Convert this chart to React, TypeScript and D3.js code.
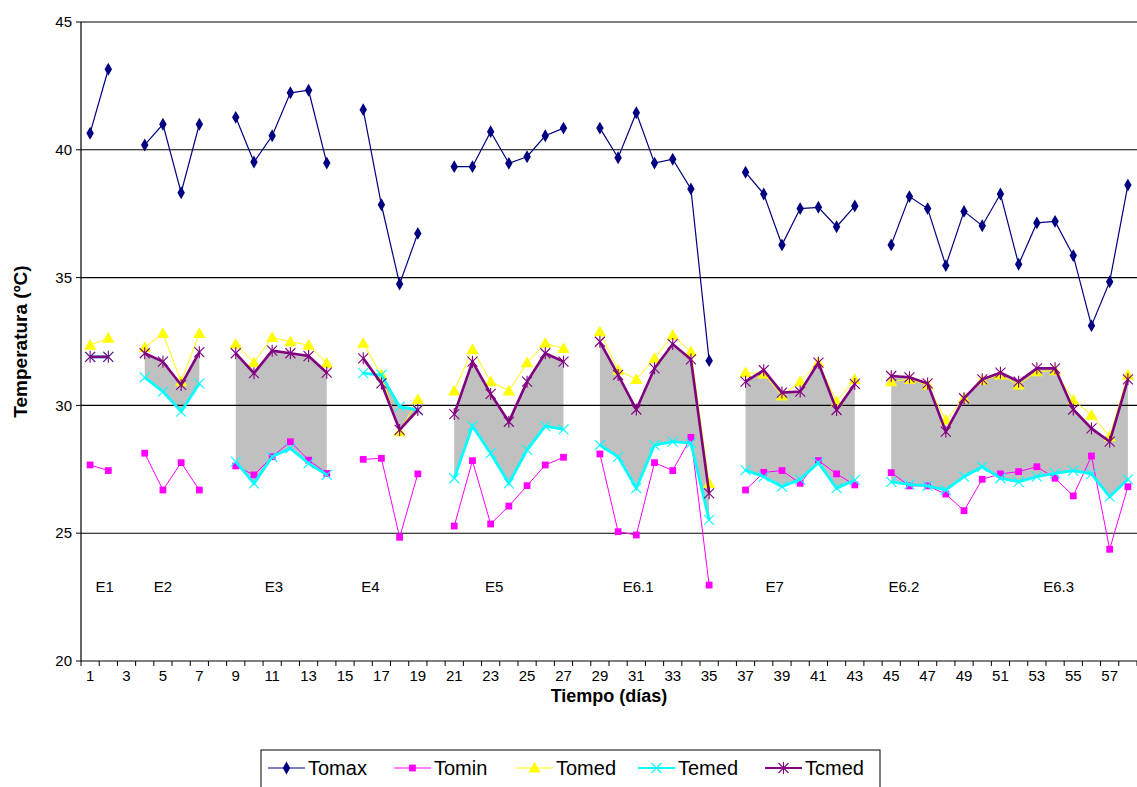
import React from "react";
import * as d3 from "d3";

const days = d3.range(1, 59);
const xTickLabels = d3.range(1, 58, 2);
const yTicks = [20, 25, 30, 35, 40, 45];

const N = null;
const tomax = [40.65, 43.15, N, 40.19, 41.0, 38.32, 41.0, N, 41.27, 39.52, 40.55, 42.23, 42.33, 39.48, N, 41.57, 37.85, 34.75, 36.73, N, 39.34, 39.34, 40.71, 39.47, 39.73, 40.55, 40.85, N, 40.85, 39.69, 41.45, 39.48, 39.63, 38.47, 31.75, N, 39.12, 38.27, 36.28, 37.7, 37.75, 36.99, 37.8, N, 36.28, 38.17, 37.7, 35.47, 37.59, 37.03, 38.27, 35.52, 37.14, 37.2, 35.86, 33.12, 34.84, 38.62];
const tomin = [27.67, 27.45, N, 28.13, 26.69, 27.76, 26.69, N, 27.63, 27.28, 27.99, 28.58, 27.86, 27.34, N, 27.89, 27.93, 24.84, 27.32, N, 25.28, 27.84, 25.36, 26.06, 26.86, 27.67, 27.97, N, 28.1, 25.06, 24.93, 27.76, 27.45, 28.75, 22.97, N, 26.69, 27.38, 27.45, 26.95, 27.84, 27.32, 26.89, N, 27.37, 26.85, 26.85, 26.53, 25.88, 27.11, 27.32, 27.41, 27.6, 27.15, 26.46, 28.02, 24.37, 26.82];
const tomed = [32.36, 32.63, N, 32.27, 32.82, 30.93, 32.82, N, 32.4, 31.67, 32.66, 32.49, 32.36, 31.65, N, 32.43, 31.19, 28.97, 30.23, N, 30.57, 32.19, 30.93, 30.57, 31.67, 32.43, 32.23, N, 32.88, 31.38, 31.02, 31.84, 32.75, 32.1, 26.95, N, 31.28, 31.23, 30.37, 30.93, 31.67, 30.15, 31.02, N, 30.93, 31.02, 30.8, 29.43, 30.28, 30.99, 31.19, 30.8, 31.32, 31.36, 30.21, 29.62, 28.78, 31.19];
const temed = [31.9, 31.9, N, 31.1, 30.54, 29.76, 30.86, N, 27.8, 26.95, 27.99, 28.32, 27.73, 27.28, N, 31.26, 31.19, 29.95, 29.82, N, 27.15, 29.19, 28.13, 26.95, 28.26, 29.19, 29.06, N, 28.45, 27.99, 26.76, 28.45, 28.58, 28.52, 25.52, N, 27.47, 27.21, 26.82, 27.11, 27.76, 26.76, 27.08, N, 27.01, 26.91, 26.85, 26.69, 27.21, 27.6, 27.15, 27.01, 27.21, 27.34, 27.45, 27.32, 26.43, 27.11];
const tcmed = [31.9, 31.9, N, 32.04, 31.71, 30.8, 32.08, N, 32.04, 31.26, 32.14, 32.04, 31.93, 31.28, N, 31.84, 30.86, 29.04, 29.82, N, 29.66, 31.71, 30.45, 29.36, 30.93, 32.04, 31.71, N, 32.49, 31.19, 29.84, 31.45, 32.4, 31.8, 26.56, N, 30.93, 31.38, 30.5, 30.54, 31.67, 29.82, 30.84, N, 31.15, 31.1, 30.86, 28.97, 30.28, 31.02, 31.28, 30.93, 31.45, 31.45, 29.84, 29.1, 28.58, 31.02];

const shadedRanges: [number, number][] = [[4, 7], [9, 14], [17, 19], [21, 27], [29, 35], [37, 43], [45, 58]];
const stageNames = ["E1", "E2", "E3", "E4", "E5", "E6.1", "E7", "E6.2", "E6.3"];
const stageDays = [1.8, 5.0, 11.1, 16.4, 23.2, 31.1, 38.6, 45.7, 54.2];

const seriesNames = ["Tomax", "Tomin", "Tomed", "Temed", "Tcmed"];
const seriesData = [tomax, tomin, tomed, temed, tcmed];
const seriesColors = ["#000080", "#FF00FF", "#FFFF00", "#00FFFF", "#800080"];
const seriesWidths = [1.2, 1, 1, 2.8, 2.6];
const seriesMarkers = ["diamond", "square", "triangle", "x", "star"];

const FONT = "'Liberation Sans', Arial, sans-serif";

function Marker({ type, x, y, color }: { type: string; x: number; y: number; color: string }) {
  if (type === "diamond") {
    const p = d3.symbol(d3.symbolDiamond, 48)();
    return <path d={p as string} transform={`translate(${x},${y})`} fill={color} />;
  }
  if (type === "square") {
    const p = d3.symbol(d3.symbolSquare, 46)();
    return <path d={p as string} transform={`translate(${x},${y})`} fill={color} />;
  }
  if (type === "triangle") {
    const p = d3.symbol(d3.symbolTriangle, 66)();
    return <path d={p as string} transform={`translate(${x},${y + 1})`} fill={color} />;
  }
  const r = 5;
  if (type === "x") {
    return (
      <g stroke={color} strokeWidth={1.1}>
        <line x1={x - r} y1={y - r} x2={x + r} y2={y + r} />
        <line x1={x - r} y1={y + r} x2={x + r} y2={y - r} />
      </g>
    );
  }
  return (
    <g stroke={color} strokeWidth={1.1}>
      <line x1={x - r} y1={y - r} x2={x + r} y2={y + r} />
      <line x1={x - r} y1={y + r} x2={x + r} y2={y - r} />
      <line x1={x} y1={y - r - 1} x2={x} y2={y + r + 1} />
    </g>
  );
}

export default function App() {
  const W = 1137, H = 787;
  const left = 81, right = 1137, top = 22, bottom = 661;
  const x = d3.scaleBand<number>().domain(days).range([left, right]).padding(0);
  const bw = x.bandwidth();
  const cx = (d: number) => (x(d) as number) + bw / 2;
  const xc = d3.scaleLinear().domain([1, 58]).range([cx(1), cx(58)]);
  const y = d3.scaleLinear().domain([20, 45]).range([bottom, top]);

  const line = d3
    .line<number | null>()
    .defined((v) => v != null)
    .x((_, i) => cx(days[i]))
    .y((v) => y(v as number));

  const area = d3
    .area<number>()
    .x((d) => cx(d))
    .y0((d) => y(temed[d - 1] as number))
    .y1((d) => y(tcmed[d - 1] as number));

  const legendStarts = [268, 394, 516, 638, 765];

  return (
    <svg width={W} height={H} style={{ position: "absolute", left: 0, top: 0, background: "#fff" }} fontFamily={FONT}>
      <rect x={0} y={0} width={W} height={H} fill="#fff" />
      {shadedRanges.map(([a, b], i) => (
        <path key={i} d={area(d3.range(a, b + 1)) as string} fill="#C0C0C0" />
      ))}
      {yTicks.map((t) => (
        <g key={t}>
          {t > 20 && <line x1={left} x2={right} y1={y(t)} y2={y(t)} stroke="#000" strokeWidth={1.1} />}
          <line x1={left - 5} x2={left} y1={y(t)} y2={y(t)} stroke="#000" />
          <text x={left - 9} y={y(t)} dy="0.35em" textAnchor="end" fontSize={15}>{t}</text>
        </g>
      ))}
      <line x1={left} x2={left} y1={top} y2={bottom} stroke="#000" strokeWidth={1.2} />
      <line x1={left} x2={right} y1={bottom} y2={bottom} stroke="#000" strokeWidth={1.2} />
      {d3.range(0, 59).map((k) => (
        <line key={k} x1={left + k * bw} x2={left + k * bw} y1={bottom} y2={bottom + 5} stroke="#000" />
      ))}
      {xTickLabels.map((d) => (
        <text key={d} x={cx(d)} y={bottom + 15} dy="0.35em" textAnchor="middle" fontSize={15}>{d}</text>
      ))}
      <text x={(left + right) / 2} y={bottom + 35} dy="0.35em" textAnchor="middle" fontSize={18} fontWeight="bold">Tiempo (días)</text>
      <text transform={`translate(20,${(top + bottom) / 2}) rotate(-90)`} dy="0.35em" textAnchor="middle" fontSize={19} fontWeight="bold">Temperatura (ºC)</text>
      {stageNames.map((s, i) => (
        <text key={s} x={xc(stageDays[i])} y={y(22.9)} dy="0.35em" textAnchor="middle" fontSize={15}>{s}</text>
      ))}
      {seriesData.map((data, si) => (
        <g key={seriesNames[si]}>
          <path d={line(data) as string} fill="none" stroke={seriesColors[si]} strokeWidth={seriesWidths[si]} />
          {data.map((v, i) =>
            v == null ? null : <Marker key={i} type={seriesMarkers[si]} x={cx(days[i])} y={y(v)} color={seriesColors[si]} />
          )}
        </g>
      ))}
      <rect x={261} y={750} width={619} height={60} fill="#fff" stroke="#000" strokeWidth={1} />
      {seriesNames.map((n, i) => (
        <g key={n}>
          <line x1={legendStarts[i]} x2={legendStarts[i] + 37} y1={768} y2={768} stroke={seriesColors[i]} strokeWidth={seriesWidths[i] > 2 ? 2 : 1} />
          <Marker type={seriesMarkers[i]} x={legendStarts[i] + 18.5} y={768} color={seriesColors[i]} />
          <text x={legendStarts[i] + 40} y={768} dy="0.35em" fontSize={20}>{n}</text>
        </g>
      ))}
    </svg>
  );
}
